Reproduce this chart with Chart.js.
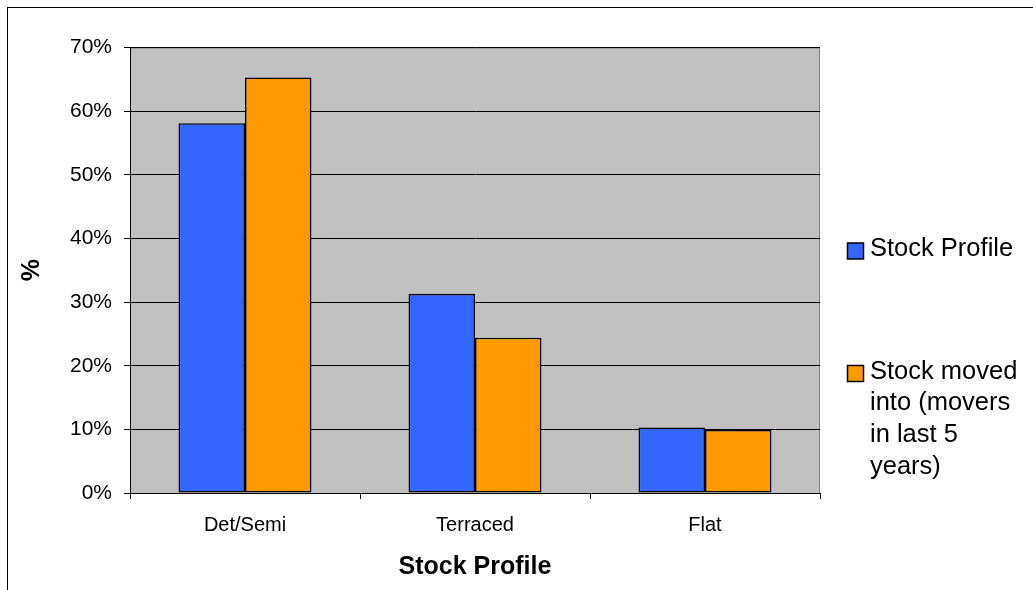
<!DOCTYPE html>
<html>
<head>
<meta charset="utf-8">
<title>Stock Profile</title>
<script src="https://cdn.jsdelivr.net/npm/chart.js@4/dist/chart.umd.min.js"></script>
<style>
  html, body { margin: 0; padding: 0; background: #ffffff; }
  #wrap { position: relative; width: 1033px; height: 590px; }
</style>
</head>
<body>
<div id="wrap"><canvas id="chart" width="1033" height="590"></canvas></div>
<script>
// Dwelling types along the x axis
const categories = ['Det/Semi', 'Terraced', 'Flat'];
// Share of stock in each dwelling type (%)
const stockProfile = [58.1, 31.3, 10.3];
// Share of stock moved into by households that moved in the last 5 years (%)
const stockMovedInto = [65.3, 24.4, 9.9];
// Series names as shown in the legend (wrapped lines)
const seriesNames = ['Stock Profile', 'Stock moved into (movers in last 5 years)'];
const legendLines = [['Stock Profile'], ['Stock moved', 'into (movers', 'in last 5', 'years)']];
// Axis titles
const xTitle = 'Stock Profile';
const yTitle = '%';

const FONT = '"Liberation Sans", Arial, Helvetica, sans-serif';
const seriesColors = ['#3366FF', '#FF9900'];

// Grey plot area, outer frame, axis titles and side legend
const decor = {
  id: 'decor',
  beforeDraw(chart) {
    const { ctx, chartArea: a } = chart;
    ctx.save();
    ctx.fillStyle = '#ffffff';
    ctx.fillRect(0, 0, chart.width, chart.height);
    ctx.strokeStyle = '#000000';
    ctx.lineWidth = 1;
    ctx.strokeRect(7.5, 7.5, chart.width + 50, chart.height + 50);
    ctx.fillStyle = '#C0C0C0';
    ctx.fillRect(a.left, a.top, a.right - a.left, a.bottom - a.top);
    ctx.strokeStyle = '#808080';
    ctx.strokeRect(a.left + 0.5, a.top + 0.5, a.right - a.left - 1, a.bottom - a.top);
    ctx.restore();
  },
  afterDraw(chart) {
    const { ctx, chartArea: a } = chart;
    ctx.save();
    ctx.fillStyle = '#000000';
    ctx.font = 'bold 25px ' + FONT;
    ctx.textAlign = 'center';
    ctx.textBaseline = 'middle';
    ctx.fillText(xTitle, (a.left + a.right) / 2, 567);
    ctx.save();
    ctx.translate(32, (a.top + a.bottom) / 2);
    ctx.rotate(-Math.PI / 2);
    ctx.fillText(yTitle, 0, 0);
    ctx.restore();

    // legend
    const boxX = 847.5, boxSize = 16, textX = 870, lineH = 31.7;
    const firstY = [249, 371.5];
    ctx.font = '25.5px ' + FONT;
    ctx.textAlign = 'left';
    legendLines.forEach((lines, i) => {
      const y0 = firstY[i];
      ctx.fillStyle = seriesColors[i];
      ctx.fillRect(boxX, y0 - 6, boxSize, boxSize);
      ctx.strokeStyle = '#000000';
      ctx.lineWidth = 1.5;
      ctx.strokeRect(boxX, y0 - 6, boxSize, boxSize);
      ctx.fillStyle = '#000000';
      lines.forEach((t, j) => ctx.fillText(t, textX, y0 + j * lineH));
    });
    ctx.restore();
  }
};

new Chart(document.getElementById('chart'), {
  type: 'bar',
  data: {
    labels: categories,
    datasets: [
      { label: seriesNames[0], data: stockProfile, backgroundColor: seriesColors[0] },
      { label: seriesNames[1], data: stockMovedInto, backgroundColor: seriesColors[1] }
    ]
  },
  options: {
    responsive: false,
    animation: false,
    devicePixelRatio: 1,
    layout: { padding: { left: 0, top: 47.5, right: 213, bottom: 0 } },
    datasets: {
      bar: {
        categoryPercentage: 0.578,
        barPercentage: 1,
        borderColor: '#000000',
        borderWidth: 1.6,
        borderSkipped: false
      }
    },
    plugins: {
      legend: { display: false },
      tooltip: { enabled: false }
    },
    scales: {
      x: {
        afterFit(s) { s.height = 97; },
        grid: {
          offset: true,
          drawOnChartArea: false,
          drawTicks: true,
          tickLength: 6,
          color: '#000000',
          lineWidth: 1
        },
        border: { display: true, color: '#000000', width: 1 },
        ticks: {
          color: '#000000',
          padding: 14,
          font: { family: FONT, size: 20 }
        }
      },
      y: {
        min: 0,
        max: 70,
        afterFit(s) { s.width = 130; },
        grid: {
          color: '#000000',
          lineWidth: 1,
          drawTicks: true,
          tickLength: 6
        },
        border: { display: true, color: '#000000', width: 1 },
        ticks: {
          stepSize: 10,
          color: '#000000',
          padding: 12,
          font: { family: FONT, size: 21 },
          callback: v => v + '%'
        }
      }
    }
  },
  plugins: [decor]
});
</script>
</body>
</html>
